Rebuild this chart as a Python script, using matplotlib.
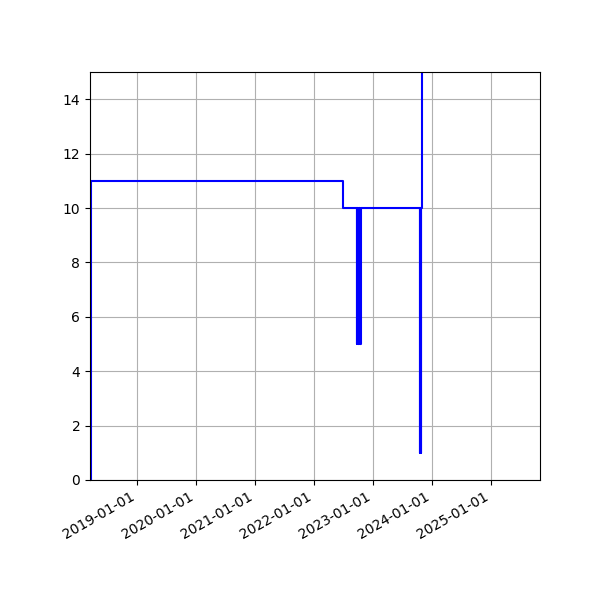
import matplotlib
matplotlib.use("Agg")
import matplotlib.pyplot as plt
import matplotlib.dates as mdates
import pandas as pd

dates = [
    "2018-03-16", "2018-03-22", "2022-06-29",
    "2022-09-24", "2022-09-26", "2022-09-28", "2022-09-30", "2022-10-02",
    "2022-10-04", "2022-10-06", "2022-10-08", "2022-10-10", "2022-10-12",
    "2022-10-14", "2022-10-16",
    "2023-10-21", "2023-10-22", "2023-10-25", "2023-10-26",
    "2023-11-02", "2025-10-31",
]
values = [
    0, 11, 10,
    5, 10, 5, 10, 5,
    10, 5, 10, 5, 10,
    5, 10,
    1, 10, 1, 10,
    20, 20,
]

x = pd.to_datetime(dates)

fig, ax = plt.subplots(figsize=(6, 6), dpi=100)
fig.subplots_adjust(left=0.15, right=0.9, top=0.88, bottom=0.2)
ax.plot(x, values, color="blue", drawstyle="steps-post", linewidth=1.5)
ax.set_ylim(0, 15)
ax.set_xlim(x[0], x[-1])
ax.xaxis.set_major_locator(mdates.YearLocator())
ax.xaxis.set_major_formatter(mdates.DateFormatter("%Y-%m-%d"))
ax.grid(True)
for lbl in ax.get_xticklabels():
    lbl.set_rotation(30)
    lbl.set_ha("right")
fig.savefig("out.png", dpi=100)
